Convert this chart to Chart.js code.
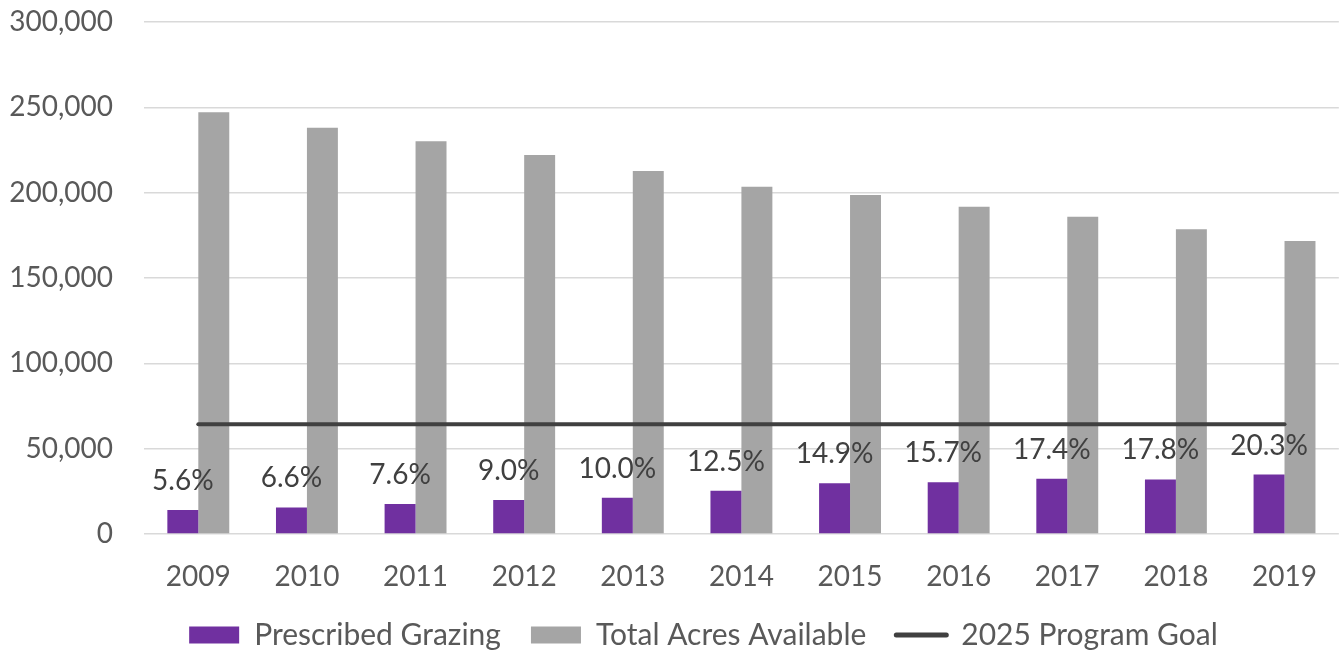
<!DOCTYPE html>
<html>
<head>
<meta charset="utf-8">
<script src="https://cdn.jsdelivr.net/npm/chart.js@4.4.0/dist/chart.umd.min.js"></script>
<style>
    html, body { margin: 0; padding: 0; background: #ffffff; }
    #wrap { width: 1343px; height: 651px; }
</style>
</head>
<body>
<div id="wrap"><canvas id="grazingChart"></canvas></div>
<script>
// Veriler
var years = ['2009', '2010', '2011', '2012', '2013', '2014', '2015', '2016', '2017', '2018', '2019'];
var prescribedGrazing = [14100, 15600, 17600, 19900, 21300, 25400, 29700, 30300, 32400, 32000, 34800];
var totalAcres = [247100, 238100, 230100, 222100, 212700, 203500, 198600, 191800, 185900, 178500, 171700];
var programGoal = [64300, 64300, 64300, 64300, 64300, 64300, 64300, 64300, 64300, 64300, 64300];
var percentLabels = ['5.6%', '6.6%', '7.6%', '9.0%', '10.0%', '12.5%', '14.9%', '15.7%', '17.4%', '17.8%', '20.3%'];
var yTicks = [0, 50000, 100000, 150000, 200000, 250000, 300000];

var fontFamily = 'Lato, "Open Sans", sans-serif';

// Mor çubukların üstüne yüzde etiketleri
var percentPlugin = {
    id: 'percentLabels',
    afterDatasetsDraw: function (chart) {
        var ctx = chart.ctx;
        var meta = chart.getDatasetMeta(0);
        ctx.save();
        ctx.font = '28px ' + fontFamily;
        ctx.fillStyle = '#404040';
        ctx.textAlign = 'center';
        ctx.textBaseline = 'alphabetic';
        meta.data.forEach(function (bar, i) {
            ctx.fillText(percentLabels[i], bar.x, bar.y - 20);
        });
        ctx.restore();
    }
};

// Lejantı biraz sağa kaydır (orijinaldeki gibi)
var legendShift = {
    id: 'legendShift',
    afterUpdate: function (chart) {
        if (chart.legend) {
            chart.legend.left += 32;
            chart.legend.right += 32;
        }
    }
};

var ctx = document.getElementById('grazingChart').getContext('2d');
var chart = new Chart(ctx, {
    type: 'bar',
    data: {
        labels: years,
        datasets: [{
            label: 'Prescribed Grazing',
            data: prescribedGrazing,
            backgroundColor: '#7030a0',
            pointStyle: 'rect',
            order: 2
        }, {
            label: 'Total Acres Available',
            data: totalAcres,
            backgroundColor: '#a5a5a5',
            pointStyle: 'rect',
            order: 2
        }, {
            type: 'line',
            label: '2025 Program Goal',
            data: programGoal,
            borderColor: '#404040',
            backgroundColor: '#404040',
            borderWidth: 4,
            borderCapStyle: 'round',
            pointRadius: 0,
            pointStyle: 'line',
            order: 1
        }]
    },
    options: {
        responsive: true,
        maintainAspectRatio: false,
        animation: false,
        layout: { padding: { top: 22, right: 0, bottom: -9, left: 0 } },
        datasets: {
            bar: { categoryPercentage: 0.57, barPercentage: 1.0 }
        },
        plugins: {
            tooltip: { enabled: false },
            legend: {
                position: 'bottom',
                labels: {
                    usePointStyle: true,
                    pointStyleWidth: 50,
                    boxHeight: 17,
                    padding: 30,
                    color: '#595959',
                    font: { family: fontFamily, size: 30 },
                    generateLabels: function (chart) {
                        return chart.data.datasets.map(function (ds, i) {
                            var isLine = ds.type === 'line';
                            return {
                                text: ds.label,
                                fillStyle: ds.backgroundColor,
                                strokeStyle: isLine ? ds.borderColor : ds.backgroundColor,
                                lineWidth: isLine ? 5 : 0,
                                lineCap: 'round',
                                pointStyle: ds.pointStyle,
                                fontColor: '#595959',
                                datasetIndex: i,
                                hidden: false
                            };
                        });
                    }
                }
            }
        },
        scales: {
            x: {
                offset: true,
                grid: { display: false, drawTicks: false },
                border: { display: false },
                afterFit: function (scale) {
                    scale.height = 56;
                },
                ticks: {
                    color: '#595959',
                    font: { family: fontFamily, size: 28 },
                    padding: 26,
                    maxRotation: 0
                }
            },
            y: {
                min: 0,
                max: 300000,
                afterBuildTicks: function (scale) {
                    scale.ticks = yTicks.map(function (v) { return { value: v }; });
                },
                afterFit: function (scale) {
                    scale.width = 144;
                },
                grid: { color: '#d9d9d9', lineWidth: 1.5, drawTicks: true, tickLength: 31, tickColor: 'rgba(0,0,0,0)' },
                border: { display: false },
                ticks: {
                    color: '#595959',
                    font: { family: fontFamily, size: 28 },
                    padding: 0,
                    callback: function (value) {
                        return value.toLocaleString('en-US');
                    }
                }
            }
        }
    },
    plugins: [percentPlugin, legendShift]
});
</script>
</body>
</html>
